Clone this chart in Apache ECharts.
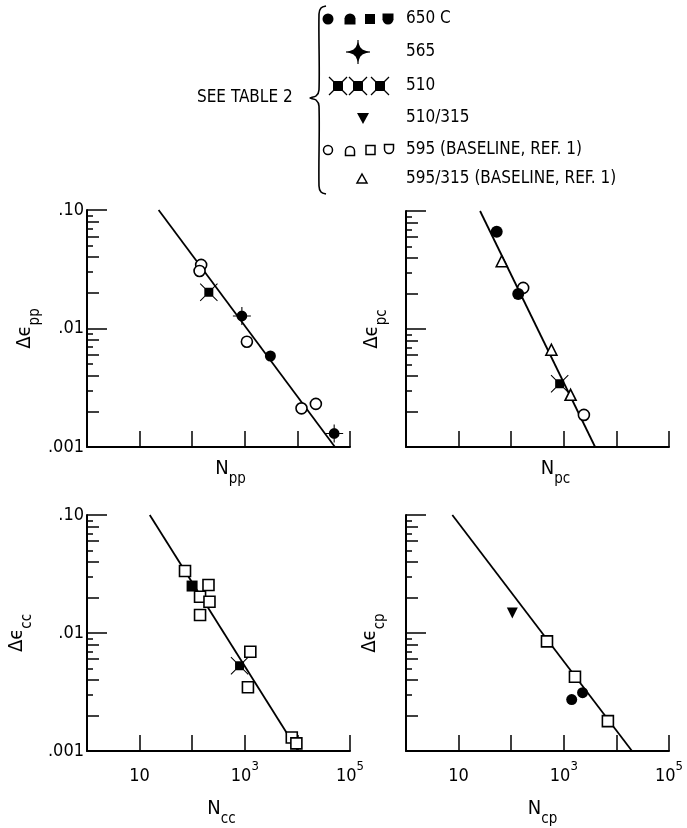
<!DOCTYPE html>
<html><head><meta charset="utf-8">
<script src="https://cdn.jsdelivr.net/npm/echarts@6/dist/echarts.min.js"></script>
<style>html,body{margin:0;padding:0;background:#fff}#c{width:687px;height:828px}</style>
</head><body><div id="c"></div>
<script>
const FONT = '"DejaVu Sans Condensed","Liberation Sans Narrow","Liberation Sans",sans-serif';

// ---- axis ranges and tick labels ----
const xRange = [1, 1e5];
const yRange = [0.001, 0.1];
const yTickLabels = { '-3': '.001', '-2': '.01', '-1': '.10' };
const xTickLabels = { '1': '{n|10}', '3': '{n|10}{sup|3}', '5': '{n|10}{sup|5}' };
const minorEven = [0.002, 0.004, 0.006, 0.008, 0.02, 0.04, 0.06, 0.08];
const minorOdd = [0.003, 0.005, 0.007, 0.009, 0.03, 0.05, 0.07, 0.09];

// ---- panel pp ----
const pp595 = [[148, 0.0344], [138, 0.0306], [1096, 0.00774], [11970, 0.00212], [22440, 0.00231]];
const pp510 = [[207, 0.0202]];
const pp565 = [[880, 0.01275], [50000, 0.0013]];
const pp650 = [[3065, 0.00586]];
const ppFit = [[23, 0.1], [51800, 0.001]];

// ---- panel pc ----
const pc650 = [[53, 0.0667], [136, 0.0198]];
const pc595_315 = [[66, 0.0375], [581, 0.00667], [1346, 0.00277]];
const pc595 = [[169, 0.0223], [2410, 0.00187]];
const pc510 = [[834, 0.00343]];
const pcFit = [[25.6, 0.1], [3940, 0.001]];

// ---- panel cc ----
const cc595 = [[73, 0.0335], [204, 0.0255], [141, 0.0203], [213, 0.0184], [141, 0.0142],
               [1273, 0.00694], [1147, 0.00347], [7820, 0.0013], [9560, 0.00116]];
const cc650 = [[99.5, 0.025]];
const cc510 = [[795, 0.00528]];
const ccFit = [[15.6, 0.1], [10300, 0.001]];

// ---- panel cp ----
const cp510_315 = [[105, 0.0148]];
const cp595 = [[479, 0.0085], [1630, 0.00426], [6890, 0.00179]];
const cp650 = [[2275, 0.00312], [1413, 0.00273]];
const cpFit = [[7.6, 0.1], [19800, 0.001]];

// ---- names ----
const yNames = ['pp', 'pc', 'cc', 'cp'];

// symbol paths
const P_XSQ = 'path://M5,5H15V15H5Z M0,0.8L0.8,0L20,19.2L19.2,20Z M19.2,0L20,0.8L0.8,20L0,19.2Z';
const P_STAR = 'path://M10,4A6,6 0 1,1 10,16A6,6 0 1,1 10,4Z M9.4,0H10.6V20H9.4Z M0,9.4H20V10.6H0Z';

const grids = [
  { left: 87, top: 210, width: 263, height: 237 },
  { left: 406, top: 211, width: 263, height: 236 },
  { left: 87, top: 515, width: 263, height: 236 },
  { left: 406, top: 515, width: 263, height: 237 }
];

const nameRich = {
  d: { fontFamily: FONT, fontSize: 20, lineHeight: 28, verticalAlign: 'top', color: '#000' },
  s: { fontFamily: FONT, fontSize: 15, lineHeight: 15, verticalAlign: 'bottom', color: '#000' }
};

const xNameCfg = [
  { gap: 12, pad: 24 }, { gap: 12, pad: 36 }, { gap: 48, pad: 6 }, { gap: 48, pad: 10 }
];
const yNameGap = [44, 16, 52, 18];

const xAxis = grids.map((g, i) => ({
  type: 'log', logBase: 10, gridIndex: i, min: xRange[0], max: xRange[1],
  name: '{d|N}{s|' + yNames[i] + '}', nameLocation: 'middle', nameGap: xNameCfg[i].gap,
  nameTextStyle: { rich: nameRich, padding: [0, 0, 0, xNameCfg[i].pad] },
  axisLine: { lineStyle: { color: '#000', width: 2 } },
  axisTick: { inside: true, length: 16, lineStyle: { color: '#000', width: 1.5 } },
  axisLabel: {
    show: i >= 2, margin: 9, fontFamily: FONT, fontSize: 18, color: '#000',
    formatter: v => xTickLabels[String(Math.round(Math.log10(v)))] || '',
    rich: {
      n: { fontFamily: FONT, fontSize: 18, lineHeight: 25, verticalAlign: 'bottom', color: '#000' },
      sup: { fontFamily: FONT, fontSize: 13, lineHeight: 13, verticalAlign: 'top', color: '#000' }
    }
  },
  splitLine: { show: false }
}));

const yAxis = [];
grids.forEach((g, i) => {
  yAxis.push({
    type: 'log', logBase: 10, gridIndex: i, min: yRange[0], max: yRange[1], position: 'left',
    name: '{d|\u0394\u03f5}{s|' + yNames[i] + '}', nameLocation: 'middle', nameGap: yNameGap[i], nameRotate: 90,
    nameTextStyle: { rich: nameRich },
    axisLine: { lineStyle: { color: '#000', width: 2 } },
    axisTick: { inside: true, length: 20, lineStyle: { color: '#000', width: 1.5 } },
    axisLabel: {
      show: i % 2 === 0, margin: 3, fontFamily: FONT, fontSize: 18, color: '#000',
      formatter: v => yTickLabels[String(Math.round(Math.log10(v)))] || ''
    },
    splitLine: { show: false }
  });
});
[[minorEven, 12], [minorOdd, 6]].forEach(([vals, len]) => {
  grids.forEach((g, i) => {
    yAxis.push({
      type: 'log', logBase: 10, gridIndex: i, min: yRange[0], max: yRange[1], position: 'left', offset: 0,
      axisLine: { show: false }, axisLabel: { show: false }, splitLine: { show: false },
      axisTick: { inside: true, length: len, customValues: vals, lineStyle: { color: '#000', width: 1.5 } }
    });
  });
});

function sc(data, grid, symbol, size, filled, rotate) {
  return {
    type: 'scatter', xAxisIndex: grid, yAxisIndex: grid, data: data, symbol: symbol,
    symbolSize: size, symbolRotate: rotate || 0, z: 4,
    itemStyle: filled ? { color: '#000', opacity: 1 } : { color: '#fff', borderColor: '#000', borderWidth: 1.6, opacity: 1 }
  };
}
function fit(data, grid) {
  return {
    type: 'line', xAxisIndex: grid, yAxisIndex: grid, data: data, symbol: 'none', z: 2,
    lineStyle: { color: '#000', width: 1.8 }
  };
}

const series = [
  fit(ppFit, 0),
  sc(pp595, 0, 'circle', 11, false),
  sc(pp510, 0, P_XSQ, 18, true),
  sc(pp565, 0, P_STAR, 18, true),
  sc(pp650, 0, 'circle', 11, true),

  fit(pcFit, 1),
  sc(pc595, 1, 'circle', 11, false),
  sc(pc595_315, 1, 'triangle', 11, false),
  sc(pc650, 1, 'circle', 12, true),
  sc(pc510, 1, P_XSQ, 18, true),

  fit(ccFit, 2),
  sc(cc595, 2, 'rect', 11, false),
  sc(cc650, 2, 'rect', 11, true),
  sc(cc510, 2, P_XSQ, 18, true),

  fit(cpFit, 3),
  sc(cp595, 3, 'rect', 11, false),
  sc(cp510_315, 3, 'triangle', 11, true, 180),
  sc(cp650, 3, 'circle', 11, true)
];

// ---- key (legend) drawn as graphics ----
const blk = { fill: '#000' };
const opn = { fill: '#fff', stroke: '#000', lineWidth: 1.5 };
const ln = { stroke: '#000', lineWidth: 1.2 };
function txt(t, x, y) {
  return { type: 'text', x: x, y: y, style: { text: t, font: '17px ' + FONT, fill: '#000',
    align: 'left', verticalAlign: 'middle', textAlign: 'left', textVerticalAlign: 'middle' } };
}
function dome(cx, cy, r, st) {
  if (st === blk) {
    return [
      { type: 'sector', shape: { cx: cx, cy: cy, r: r, r0: 0, startAngle: Math.PI, endAngle: 2 * Math.PI }, style: blk },
      { type: 'rect', shape: { x: cx - r, y: cy - 0.5, width: 2 * r, height: r + 0.5 }, style: blk }
    ];
  }
  return [
    { type: 'arc', shape: { cx: cx, cy: cy, r: r, startAngle: Math.PI, endAngle: 2 * Math.PI }, style: { stroke: '#000', lineWidth: 1.5, fill: null } },
    { type: 'polyline', shape: { points: [[cx - r, cy], [cx - r, cy + r], [cx + r, cy + r], [cx + r, cy]] }, style: { stroke: '#000', lineWidth: 1.5, fill: null } }
  ];
}
function cup(cx, cy, r, st) {
  if (st === blk) {
    return [
      { type: 'sector', shape: { cx: cx, cy: cy, r: r, r0: 0, startAngle: 0, endAngle: Math.PI }, style: blk },
      { type: 'rect', shape: { x: cx - r, y: cy - r, width: 2 * r, height: r + 0.5 }, style: blk }
    ];
  }
  return [
    { type: 'arc', shape: { cx: cx, cy: cy, r: r, startAngle: 0, endAngle: Math.PI }, style: { stroke: '#000', lineWidth: 1.5, fill: null } },
    { type: 'polyline', shape: { points: [[cx - r, cy], [cx - r, cy - r], [cx + r, cy - r], [cx + r, cy]] }, style: { stroke: '#000', lineWidth: 1.5, fill: null } }
  ];
}
function xsq(cx, cy) {
  return [
    { type: 'rect', shape: { x: cx - 5, y: cy - 5, width: 10, height: 10 }, style: blk },
    { type: 'line', shape: { x1: cx - 9, y1: cy - 9, x2: cx + 9, y2: cy + 9 }, style: ln },
    { type: 'line', shape: { x1: cx + 9, y1: cy - 9, x2: cx - 9, y2: cy + 9 }, style: ln }
  ];
}
function star(cx, cy) {
  return [
    { type: 'circle', shape: { cx: cx, cy: cy, r: 5 }, style: blk },
    { type: 'polygon', shape: { points: [[cx, cy - 10], [cx + 3, cy - 3], [cx + 11, cy], [cx + 3, cy + 3], [cx, cy + 10], [cx - 3, cy + 3], [cx - 11, cy], [cx - 3, cy - 3]] }, style: blk },
    { type: 'line', shape: { x1: cx, y1: cy - 12, x2: cx, y2: cy + 12 }, style: ln },
    { type: 'line', shape: { x1: cx - 12, y1: cy, x2: cx + 12, y2: cy }, style: ln }
  ];
}
const graphic = [].concat(
  [txt('SEE TABLE 2', 197, 98),
   { type: 'polyline', shape: { points: [[326, 6], [321, 8], [319, 14], [319, 90], [316, 96], [310, 98], [316, 100], [319, 106], [319, 186], [321, 192], [326, 194]], smooth: 0.3 },
     style: { fill: null, stroke: '#000', lineWidth: 1.6 } }],
  // row 1: 650 C
  [{ type: 'circle', shape: { cx: 328, cy: 19, r: 5.5 }, style: blk }],
  dome(350, 19, 5.5, blk),
  [{ type: 'rect', shape: { x: 365, y: 14, width: 10, height: 10 }, style: blk }],
  cup(388, 19, 5.5, blk),
  [txt('650 C', 406, 19)],
  // row 2: 565
  star(358, 52),
  [txt('565', 406, 52)],
  // row 3: 510
  xsq(338, 86), xsq(358, 86), xsq(380, 86),
  [txt('510', 406, 86)],
  // row 4: 510/315
  [{ type: 'polygon', shape: { points: [[357, 113], [369, 113], [363, 124]] }, style: blk },
   txt('510/315', 406, 118)],
  // row 5: 595 baseline
  [{ type: 'circle', shape: { cx: 328, cy: 150, r: 4.5 }, style: opn }],
  dome(350, 151, 4.5, opn),
  [{ type: 'rect', shape: { x: 366, y: 145.5, width: 9, height: 9 }, style: opn }],
  cup(389, 149, 4.5, opn),
  [txt('595 (BASELINE, REF. 1)', 406, 150)],
  // row 6: 595/315 baseline
  [{ type: 'polygon', shape: { points: [[362, 174], [367, 183], [357, 183]] }, style: opn },
   txt('595/315 (BASELINE, REF. 1)', 406, 179)]
);

const chart = echarts.init(document.getElementById('c'), null, { renderer: 'canvas' });
chart.setOption({
  backgroundColor: '#fff',
  animation: false,
  textStyle: { fontFamily: FONT, color: '#000' },
  grid: grids,
  xAxis: xAxis,
  yAxis: yAxis,
  series: series,
  graphic: graphic
});
</script>
</body></html>
